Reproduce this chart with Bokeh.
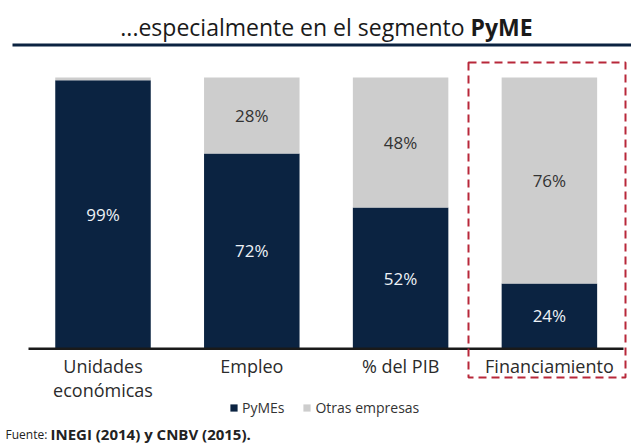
from bokeh.plotting import figure
from bokeh.models import (Range1d, Label, BoxAnnotation, Legend,
                          LegendItem, ColumnDataSource)
from bokeh.core.properties import value
from bokeh.embed import file_html
from bokeh.resources import INLINE

# ---- data ----
categories = ["Unidades\neconómicas", "Empleo", "% del PIB", "Financiamiento"]
pymes = [99, 72, 52, 24]
otras = [1, 28, 48, 76]
series_names = ["PyMEs", "Otras empresas"]
title_main = "...especialmente en el segmento "
title_bold = "PyME"
source_lead = "Fuente:"
source_rest = "INEGI (2014) y CNBV (2015)."

# ---- style ----
NAVY = "#0b2341"
GRAY = "#cdcdcd"
RED = "#b8283a"
FONT = "Open Sans"

W, H = 631, 448
X0, STEP = 102.5, 148.8      # pixel position of first category centre, spacing
Y0, PX100 = 348.0, 271.0     # pixel row of value 0, pixels for 100 %
PPU = PX100 / 100.0

p = figure(frame_width=W, frame_height=H,
           x_range=Range1d(-X0 / STEP, (W - X0) / STEP),
           y_range=Range1d(-(H - Y0) / PPU, Y0 / PPU),
           min_border=0, min_border_left=0, min_border_right=0,
           min_border_top=0, min_border_bottom=0,
           toolbar_location=None, output_backend="svg",
           x_axis_location=None, y_axis_location=None,
           outline_line_color=None)
p.xgrid.visible = False
p.ygrid.visible = False

idx = list(range(len(categories)))
src = ColumnDataSource(dict(
    pos=idx, cat=categories, pymes=pymes, otras=otras,
    pymes_mid=[v / 2 for v in pymes],
    otras_mid=[a + b / 2 for a, b in zip(pymes, otras)],
    pymes_lbl=[f"{v}%" for v in pymes],
    otras_lbl=[f"{v}%" if v >= 5 else "" for v in otras],
))

rs = p.vbar_stack(["pymes", "otras"], x="pos", width=95.5 / STEP,
                  color=[NAVY, GRAY], line_color=None, source=src)

p.text(x="pos", y="pymes_mid", text="pymes_lbl", source=src,
       text_color="#eef2f7", text_font=value(FONT), text_font_size="17px",
       text_align="center", text_baseline="middle")
p.text(x="pos", y="otras_mid", text="otras_lbl", source=src,
       text_color="#333333", text_font=value(FONT), text_font_size="17px",
       text_align="center", text_baseline="middle")

# category labels under the baseline
p.text(x="pos", y=0, text="cat", source=src, y_offset=5,
       text_color="#2b2b2b", text_font=value(FONT), text_font_size="18px",
       text_align="center", text_baseline="top", text_line_height=1.0)

def sbox(left, right, top_px, bottom_px, **kw):
    return BoxAnnotation(left=left, right=right, top=H - top_px, bottom=H - bottom_px,
                         left_units="screen", right_units="screen",
                         top_units="screen", bottom_units="screen", **kw)

# baseline
p.add_layout(sbox(28, 623, 347, 349.5, fill_color="#1a1a1a", fill_alpha=1,
                  line_color=None))
# title rule
p.add_layout(sbox(12, 631, 43, 46, fill_color=NAVY, fill_alpha=1, line_color=None))
# highlight box
p.add_layout(sbox(468, 625, 62, 377, fill_alpha=0, line_color=RED, line_alpha=1,
                  line_width=2, line_dash="8 5"))

legend = Legend(items=[LegendItem(label=series_names[0], renderers=[rs[0]]),
                       LegendItem(label=series_names[1], renderers=[rs[1]])],
                orientation="horizontal", location=(229, H - 417),
                glyph_width=9, glyph_height=9, spacing=18,
                label_text_font=FONT, label_text_font_size="14px",
                label_text_color="#333333", label_standoff=4,
                border_line_color=None, background_fill_alpha=0,
                padding=0, margin=0)
p.add_layout(legend)

SPLIT = 470
p.add_layout(Label(x=SPLIT, y=H - 26, x_units="screen", y_units="screen",
                   text=title_main, text_align="right", text_baseline="alphabetic",
                   text_font=FONT, text_font_size="23px", text_color="#1a1a1a"))
p.add_layout(Label(x=SPLIT, y=H - 26, x_units="screen", y_units="screen",
                   text=title_bold, text_align="left", text_baseline="alphabetic",
                   text_font_style="bold",
                   text_font=FONT, text_font_size="23px", text_color="#1a1a1a"))

p.add_layout(Label(x=5, y=H - 434, x_units="screen", y_units="screen",
                   text=source_lead, text_align="left", text_baseline="alphabetic",
                   text_font=FONT, text_font_size="12px", text_color="#222222"))
p.add_layout(Label(x=50, y=H - 433.5, x_units="screen", y_units="screen",
                   text=source_rest, text_align="left", text_baseline="alphabetic",
                   text_font_style="bold",
                   text_font=FONT, text_font_size="15px", text_color="#222222"))

open("out.html", "w").write(file_html(p, INLINE))
